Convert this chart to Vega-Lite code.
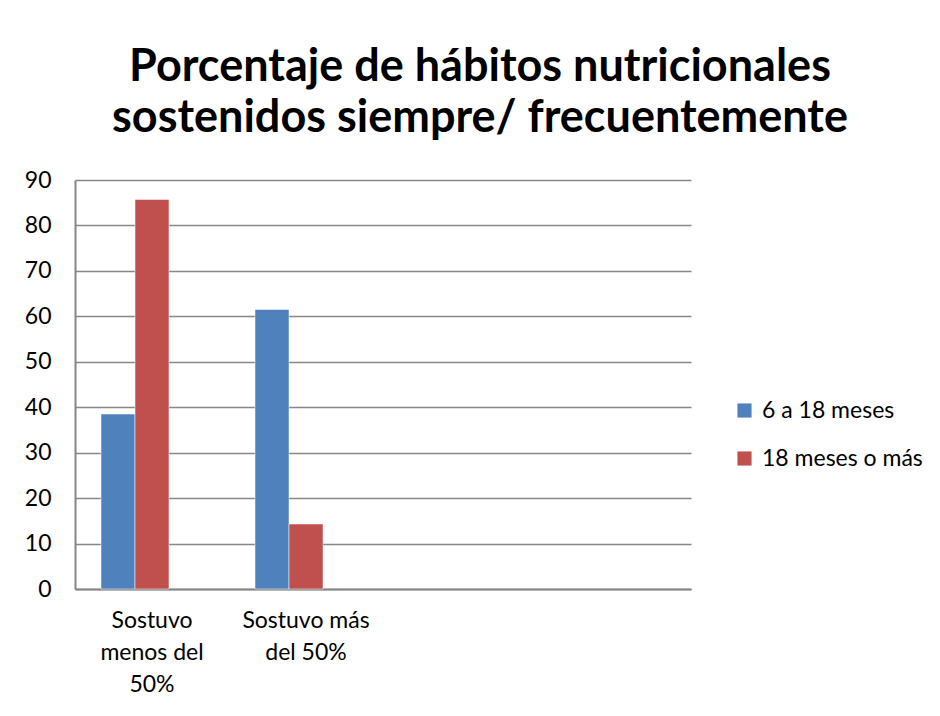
{
  "$schema": "https://vega.github.io/schema/vega-lite/v6.json",
  "autosize": "none",
  "width": 616,
  "height": 409,
  "padding": {"left": 75, "top": 180, "right": 249, "bottom": 127},
  "background": "white",
  "config": {
    "font": "Lato",
    "view": {"stroke": null}
  },
  "title": {
    "text": ["Porcentaje de hábitos nutricionales", "sostenidos siempre/ frecuentemente"],
    "font": "Lato",
    "fontSize": 45,
    "fontWeight": "bold",
    "color": "#000000",
    "anchor": "middle",
    "dx": 97,
    "offset": 28,
    "lineHeight": 51
  },
  "data": {
    "values": [
      {"categoria": "Sostuvo menos del 50%", "serie": "6 a 18 meses", "valor": 38.5},
      {"categoria": "Sostuvo menos del 50%", "serie": "18 meses o más", "valor": 85.7},
      {"categoria": "Sostuvo más del 50%", "serie": "6 a 18 meses", "valor": 61.5},
      {"categoria": "Sostuvo más del 50%", "serie": "18 meses o más", "valor": 14.3}
    ]
  },
  "mark": {"type": "bar", "stroke": "#ffffff", "strokeOpacity": 0.5, "strokeWidth": 1},
  "encoding": {
    "x": {
      "field": "categoria",
      "type": "nominal",
      "sort": null,
      "scale": {
        "domain": ["Sostuvo menos del 50%", "Sostuvo más del 50%", "c3", "c4"],
        "paddingInner": 0,
        "paddingOuter": 0
      },
      "axis": {
        "title": null,
        "labelAngle": 0,
        "labelFontSize": 23,
        "labelColor": "#000000",
        "labelFont": "Lato",
        "labelLineHeight": 32,
        "labelBaseline": "top",
        "labelPadding": 20,
        "labelExpr": "datum.value == 'Sostuvo menos del 50%' ? ['Sostuvo', 'menos del', '50%'] : (datum.value == 'Sostuvo más del 50%' ? ['Sostuvo más', 'del 50%'] : '')",
        "ticks": false,
        "domainColor": "#868686",
        "domainWidth": 2,
        "grid": false
      }
    },
    "xOffset": {
      "field": "serie",
      "type": "nominal",
      "scale": {
        "domain": ["6 a 18 meses", "18 meses o más", "serie3"],
        "paddingInner": 0,
        "paddingOuter": 0.765
      }
    },
    "y": {
      "field": "valor",
      "type": "quantitative",
      "scale": {"domain": [0, 90], "nice": false},
      "axis": {
        "title": null,
        "values": [0, 10, 20, 30, 40, 50, 60, 70, 80, 90],
        "labelFontSize": 23,
        "labelColor": "#000000",
        "labelFont": "Lato",
        "labelPadding": 24,
        "ticks": false,
        "domainColor": "#868686",
        "domainWidth": 2,
        "gridColor": "#878787",
        "gridWidth": 1.5
      }
    },
    "color": {
      "field": "serie",
      "type": "nominal",
      "scale": {
        "domain": ["6 a 18 meses", "18 meses o más"],
        "range": ["#4F81BD", "#C0504D"]
      },
      "legend": {
        "title": null,
        "orient": "none",
        "legendX": 658,
        "legendY": 219,
        "symbolType": "square",
        "symbolSize": 200,
        "symbolStrokeWidth": 0,
        "labelFontSize": 23,
        "labelFont": "Lato",
        "labelColor": "#000000",
        "labelLimit": 300,
        "rowPadding": 24,
        "labelOffset": 6
      }
    }
  }
}
